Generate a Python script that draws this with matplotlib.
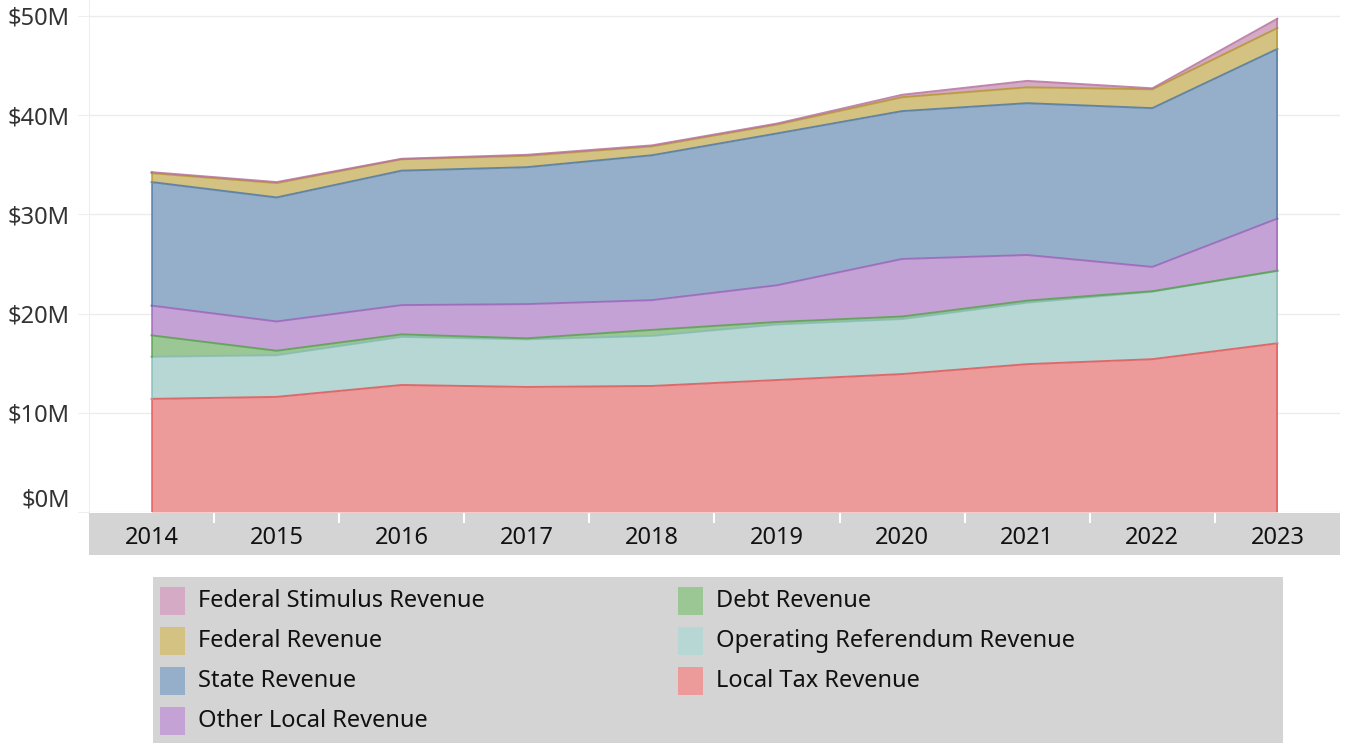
import matplotlib
matplotlib.use("Agg")
import matplotlib.pyplot as plt
from matplotlib.patches import Rectangle
from matplotlib.colors import to_rgb
import numpy as np

plt.rcParams["font.family"] = ["Noto Sans", "DejaVu Sans"]

years = [2014, 2015, 2016, 2017, 2018, 2019, 2020, 2021, 2022, 2023]

# revenue by source, $M, stacked from bottom to top
local_tax = [11.4, 11.6, 12.8, 12.6, 12.7, 13.3, 13.9, 14.9, 15.4, 17.0]
operating_referendum = [4.25, 4.2, 4.85, 4.8, 5.05, 5.6, 5.55, 6.2, 6.8, 7.3]
debt = [2.15, 0.45, 0.25, 0.1, 0.6, 0.25, 0.25, 0.2, 0.05, 0.02]
other_local = [3.0, 2.95, 2.95, 3.45, 3.0, 3.7, 5.8, 4.6, 2.45, 5.25]
state = [12.45, 12.5, 13.55, 13.8, 14.6, 15.3, 14.9, 15.3, 16.0, 17.1]
federal = [0.9, 1.45, 1.15, 1.15, 0.9, 0.9, 1.4, 1.6, 1.9, 2.1]
federal_stimulus = [0.1, 0.1, 0.05, 0.1, 0.1, 0.1, 0.25, 0.65, 0.1, 0.95]

series = [
    ("Local Tax Revenue", local_tax, "#e15759"),
    ("Operating Referendum Revenue", operating_referendum, "#86bcb6"),
    ("Debt Revenue", debt, "#59a14f"),
    ("Other Local Revenue", other_local, "#9e64bb"),
    ("State Revenue", state, "#4e79a7"),
    ("Federal Revenue", federal, "#b6992d"),
    ("Federal Stimulus Revenue", federal_stimulus, "#b7719d"),
]


def washed(color, alpha=0.6):
    r = np.array(to_rgb(color))
    return tuple(r * alpha + (1 - alpha))


W, H = 1345, 743
FS = 17
fig = plt.figure(figsize=(W / 100, H / 100), dpi=100)

# main plot area
ax = fig.add_axes([89 / W, 1 - 512 / H, 1251 / W, 512 / H])
bottom = np.zeros(len(years))
for name, vals, color in series:
    top = bottom + np.array(vals)
    ax.fill_between(years, bottom, top, color=washed(color), linewidth=0)
    ax.plot(years, top, color=color, linewidth=1.4, alpha=0.85)
    bottom = top
# vertical edges of the area at first and last year
for x_idx in (0, -1):
    b = 0
    for name, vals, color in series:
        ax.plot([years[x_idx]] * 2, [b, b + vals[x_idx]], color=color, linewidth=1.2, alpha=0.85)
        b += vals[x_idx]

ax.set_xlim(2013.5, 2023.5)
ax.set_ylim(0, 51.6)
ax.set_yticks([0, 10, 20, 30, 40, 50])
ax.set_yticklabels(["$0M", "$10M", "$20M", "$30M", "$40M", "$50M"], fontsize=FS, color="#333333")
ax.yaxis.get_majorticklabels()[0].set_verticalalignment("bottom")
ax.tick_params(axis="y", length=8, color="#eeeeee", pad=6)
ax.tick_params(axis="x", length=0, labelbottom=False)
ax.grid(axis="y", color="#ececec", linewidth=1)
ax.set_axisbelow(True)
for side in ["top", "right", "bottom"]:
    ax.spines[side].set_visible(False)
ax.spines["left"].set_color("#eeeeee")

# year header band
band = fig.add_axes([89 / W, 1 - 555 / H, 1251 / W, 42 / H])
band.set_facecolor("#d4d4d4")
band.set_xlim(2013.5, 2023.5)
band.set_ylim(0, 1)
for y in years:
    band.text(y, 0.4, str(y), ha="center", va="center", fontsize=FS, color="#111111")
for y in years[:-1]:
    band.plot([y + 0.5, y + 0.5], [0.78, 1], color="white", linewidth=1.5)
band.set_xticks([])
band.set_yticks([])
for s in band.spines.values():
    s.set_visible(False)

# legend box
leg = fig.add_axes([153 / W, 0, 1130 / W, 166 / H])
leg.set_facecolor("#d4d4d4")
leg.set_xlim(0, 1130)
leg.set_ylim(166, 0)
leg.set_xticks([])
leg.set_yticks([])
for s in leg.spines.values():
    s.set_visible(False)

lookup = {name: color for name, vals, color in series}
col1 = ["Federal Stimulus Revenue", "Federal Revenue", "State Revenue", "Other Local Revenue"]
col2 = ["Debt Revenue", "Operating Referendum Revenue", "Local Tax Revenue"]
for col_x, names in ((7, col1), (525, col2)):
    for i, name in enumerate(names):
        cy = 24 + i * 40
        leg.add_patch(Rectangle((col_x, cy - 14), 25, 28, facecolor=washed(lookup[name]), linewidth=0))
        leg.text(col_x + 38, cy, name, va="center", ha="left", fontsize=FS, color="#111111")

fig.savefig("out.png", dpi=100)
